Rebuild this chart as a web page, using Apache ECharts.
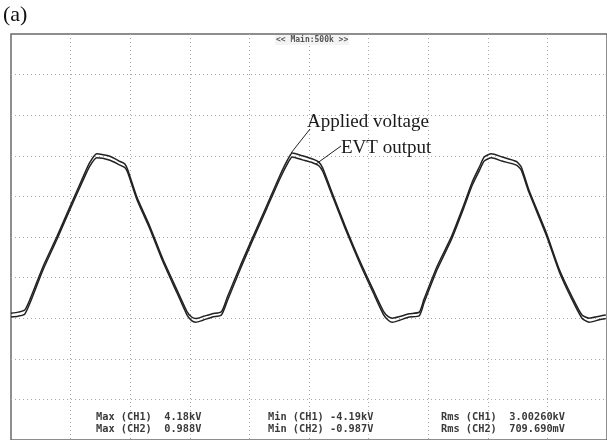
<!DOCTYPE html>
<html>
<head>
<meta charset="utf-8">
<script src="https://cdn.jsdelivr.net/npm/echarts@6/dist/echarts.min.js"></script>
<style>
    html, body { margin: 0; padding: 0; background: #fff; }
    #main { width: 607px; height: 440px; }
</style>
</head>
<body>
<div id="main"></div>
<script>
(function() {
"use strict";

    // 时间轴（格，0~10）
    var xDiv = [0, 0.12, 0.23, 0.32, 0.54, 0.77, 0.99, 1.21, 1.32, 1.44,
        1.66, 1.83, 1.91, 1.96, 2.11, 2.33, 2.55, 2.78, 2.95, 3.03,
        3.10, 3.22, 3.38, 3.53, 3.63, 3.85, 4.07, 4.29, 4.51, 4.64,
        4.72, 4.89, 5.06, 5.16, 5.23, 5.38, 5.61, 5.85, 6.08, 6.25,
        6.33, 6.40, 6.52, 6.68, 6.85, 6.93, 7.15, 7.39, 7.60, 7.74,
        7.86, 7.94, 8.06, 8.24, 8.48, 8.56, 8.69, 8.98, 9.20, 9.41,
        9.58, 9.70, 9.87, 9.98];
    // CH1 施加电压（格）
    var appliedVoltage = [-1.88, -1.85, -1.80, -1.53, -0.72, 0.01, 0.75, 1.48, 1.83, 2.05,
        1.99, 1.86, 1.80, 1.65, 0.99, 0.26, -0.55, -1.29, -1.83, -1.97,
        -2.01, -1.96, -1.89, -1.84, -1.48, -0.70, 0.04, 0.77, 1.51, 1.90,
        2.07, 2.00, 1.92, 1.85, 1.70, 1.12, 0.26, -0.58, -1.31, -1.83,
        -1.96, -2.00, -1.96, -1.89, -1.85, -1.53, -0.72, 0.01, 0.80, 1.36,
        1.73, 1.97, 2.05, 1.97, 1.86, 1.73, 1.16, 0.11, -0.80, -1.46,
        -1.92, -2.00, -1.95, -1.92];
    // CH2 EVT输出（格）
    var evtOutput = [-1.97, -1.95, -1.90, -1.62, -0.80, -0.06, 0.68, 1.40, 1.74, 1.95,
        1.89, 1.77, 1.71, 1.58, 0.93, 0.20, -0.61, -1.36, -1.91, -2.06,
        -2.10, -2.05, -1.97, -1.92, -1.57, -0.78, -0.03, 0.70, 1.43, 1.81,
        1.97, 1.90, 1.83, 1.76, 1.62, 1.06, 0.20, -0.64, -1.38, -1.91,
        -2.05, -2.10, -2.05, -1.97, -1.94, -1.62, -0.80, -0.06, 0.73, 1.28,
        1.64, 1.87, 1.95, 1.87, 1.77, 1.65, 1.10, 0.05, -0.86, -1.53,
        -2.00, -2.10, -2.04, -2.01];
    // 测量值
    var measureCol1 = ["Max (CH1)  4.18kV", "Max (CH2)  0.988V"];
    var measureCol2 = ["Min (CH1) -4.19kV", "Min (CH2) -0.987V"];
    var measureCol3 = ["Rms (CH1)  3.00260kV", "Rms (CH2)  709.690mV"];

    function toPairs(xs, ys) {
        var out = [];
        for (var i = 0; i < xs.length; i++) {
            out.push([xs[i], ys[i]]);
        }
        return out;
    }

    var gridLine = {
        show: true,
        showMinLine: false,
        showMaxLine: false,
        lineStyle: { color: '#a8a8a8', width: 1, type: [1, 3] }
    };
    var traceStyle = { color: '#222', width: 1.5 };

    var myChart = echarts.init(document.getElementById('main'));
    var option = {
        backgroundColor: '#fff',
        animation: false,
        grid: {
            left: 11, top: 34, width: 597, height: 408,
            show: true, borderColor: '#6a6a6a', borderWidth: 1.5,
            backgroundColor: '#fff'
        },
        xAxis: {
            type: 'value', min: 0, max: 10, interval: 1,
            axisLine: { show: false }, axisTick: { show: false }, axisLabel: { show: false },
            splitLine: gridLine
        },
        yAxis: {
            type: 'value', min: -5, max: 5, interval: 1,
            axisLine: { show: false }, axisTick: { show: false }, axisLabel: { show: false },
            splitLine: gridLine
        },
        series: [{
            name: 'Applied voltage',
            type: 'line',
            data: toPairs(xDiv, appliedVoltage),
            showSymbol: false,
            smooth: 0.2,
            lineStyle: traceStyle
        }, {
            name: 'EVT output',
            type: 'line',
            data: toPairs(xDiv, evtOutput),
            showSymbol: false,
            smooth: 0.2,
            lineStyle: traceStyle
        }]
    };
    myChart.setOption(option);

    // 注释、标题、测量值
    var g = [];
    var p1 = myChart.convertToPixel('grid', [4.70, 2.07]);
    var p2 = myChart.convertToPixel('grid', [5.12, 1.80]);
    g.push({ type: 'text', left: 3, top: 4,
        style: { text: '(a)', font: '22px "Liberation Serif"', fill: '#111' } });
    g.push({ type: 'text', x: 275, y: 35,
        style: { text: '<< Main:500k >>', font: 'bold 8px "DejaVu Sans Mono"', fill: '#555',
            backgroundColor: '#f3f3f3', padding: [1, 1] } });
    g.push({ type: 'line', shape: { x1: 310, y1: 129, x2: p1[0], y2: p1[1] },
        style: { stroke: '#222', lineWidth: 1 } });
    g.push({ type: 'line', shape: { x1: 341, y1: 146, x2: p2[0], y2: p2[1] },
        style: { stroke: '#222', lineWidth: 1 } });
    g.push({ type: 'text', x: 307, y: 122,
        style: { text: 'Applied voltage', font: '19px "Liberation Serif"', fill: '#1a1a1a',
            verticalAlign: 'middle' } });
    g.push({ type: 'text', x: 341, y: 148,
        style: { text: 'EVT output', font: '19px "Liberation Serif"', fill: '#1a1a1a',
            verticalAlign: 'middle' } });
    var cols = [[96, measureCol1], [268, measureCol2], [441, measureCol3]];
    for (var c = 0; c < cols.length; c++) {
        for (var r = 0; r < 2; r++) {
            g.push({ type: 'text', x: cols[c][0], y: 417 + r * 12.5,
                style: { text: cols[c][1][r], font: 'bold 10.3px "DejaVu Sans Mono"', fill: '#3a3a3a',
                    verticalAlign: 'middle', backgroundColor: '#fff' } });
        }
    }
    myChart.setOption({ graphic: g });
})();
</script>
</body>
</html>
